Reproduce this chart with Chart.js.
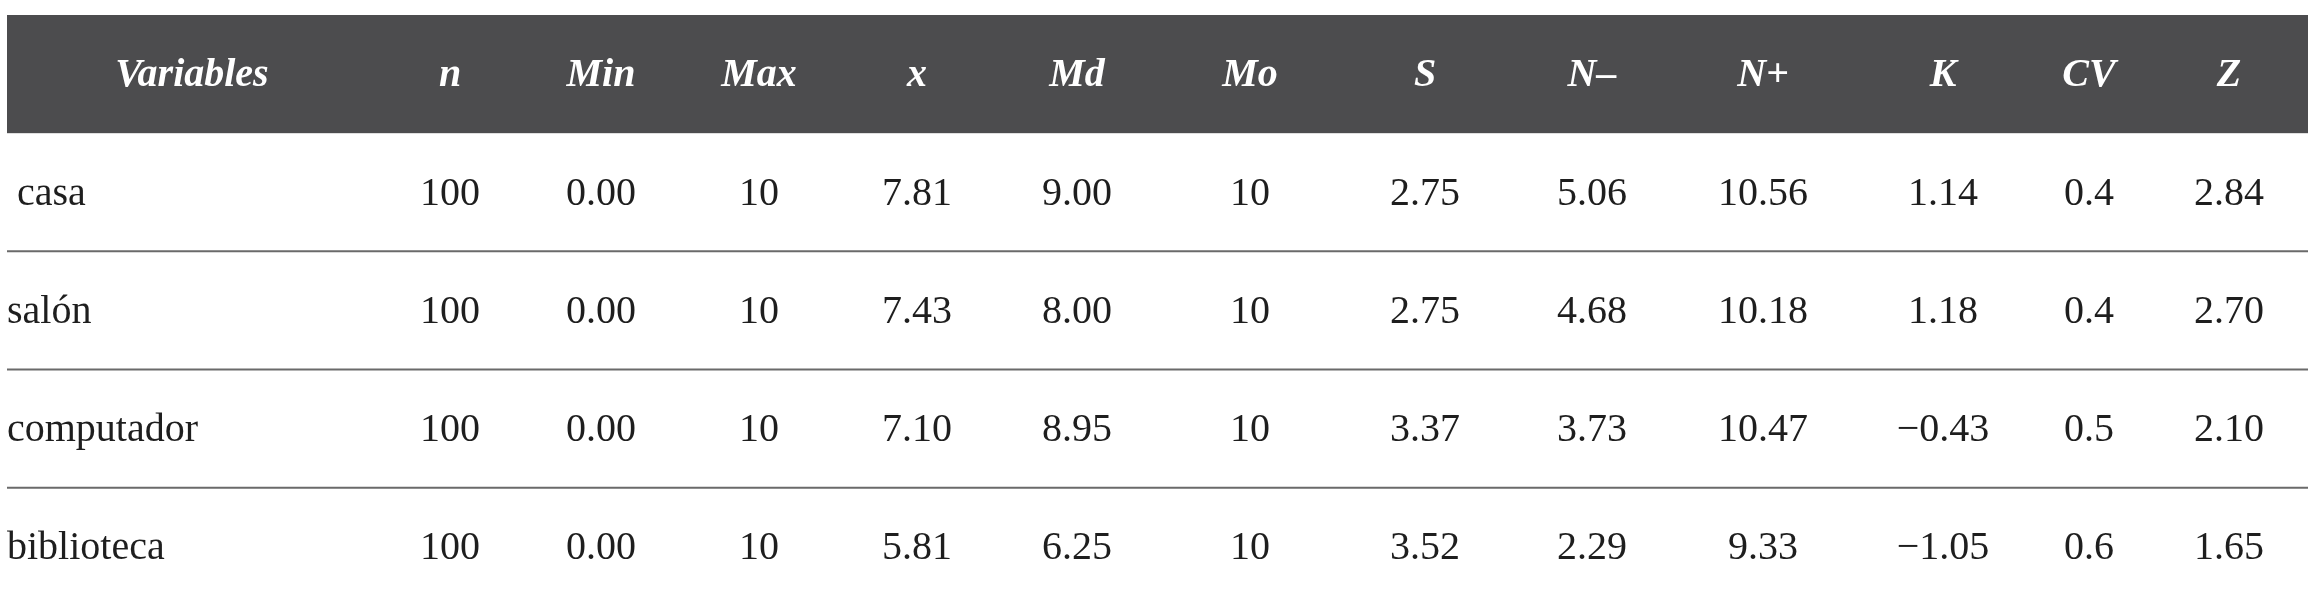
<!DOCTYPE html>
<html><head><meta charset="utf-8">
<script src="https://cdn.jsdelivr.net/npm/chart.js@4"></script>
<style>html,body{margin:0;padding:0;background:#fff}#w{width:2311px;height:600px}</style>
</head><body><div id="w"><canvas id="c"></canvas></div>
<script>
const headers = ["Variables","n","Min","Max","x","Md","Mo","S","N\u2013","N+","K","CV","Z"];
const variables = [" casa","salón","computador","biblioteca"];
const n = ["100","100","100","100"];
const minV = ["0.00","0.00","0.00","0.00"];
const maxV = ["10","10","10","10"];
const mean = ["7.81","7.43","7.10","5.81"];
const md = ["9.00","8.00","8.95","6.25"];
const mo = ["10","10","10","10"];
const s = ["2.75","2.75","3.37","3.52"];
const nMinus = ["5.06","4.68","3.73","2.29"];
const nPlus = ["10.56","10.18","10.47","9.33"];
const k = ["1.14","1.18","\u22120.43","\u22121.05"];
const cv = ["0.4","0.4","0.5","0.6"];
const z = ["2.84","2.70","2.10","1.65"];
const columns = [variables,n,minV,maxV,mean,md,mo,s,nMinus,nPlus,k,cv,z];

// layout (pixel-like x positions of column centres on a linear 0..2311 scale)
const colX = [192,450,601,759,917,1077,1250,1425,1592,1763,1943,2089,2229];

const tablePlugin = {
  id:'table',
  beforeDatasetsDraw(chart){
    const c = chart.ctx, xs = chart.scales.x, ys = chart.scales.y;
    const L = xs.getPixelForValue(7), R = xs.getPixelForValue(2308);
    const half = (ys.getPixelForValue(1)-ys.getPixelForValue(0))/2;
    // header
    c.save();
    c.fillStyle = '#4c4c4e';
    c.fillRect(L, ys.getPixelForValue(0)-half, R-L, 2*half);
    c.textBaseline='middle';
    c.font = 'italic bold 40px "Liberation Serif"';
    c.fillStyle='#fff'; c.textAlign='center';
    headers.forEach((h,i)=>c.fillText(h, xs.getPixelForValue(colX[i]), ys.getPixelForValue(0)+2));
    // separators
    c.strokeStyle='#6a6a6a'; c.lineWidth=2;
    for(let r=1;r<variables.length;r++){
      const y = ys.getPixelForValue(r)+half;
      c.beginPath(); c.moveTo(L,y); c.lineTo(R,y); c.stroke();
    }
    c.font = '40px "Liberation Serif"'; c.fillStyle='#1e1e1e';
    columns.forEach((col,i)=>{
      col.forEach((v,r)=>{
        const y = ys.getPixelForValue(r+1)+2;
        if(i===0){ c.textAlign='left'; c.fillText(v, L, y); }
        else { c.textAlign='center'; c.fillText(v, xs.getPixelForValue(colX[i]), y); }
      });
    });
    c.restore();
  }
};

new Chart(document.getElementById('c'),{
  type:'scatter',
  data:{datasets:[{data:[],pointRadius:0}]},
  options:{
    responsive:true, maintainAspectRatio:false, animation:false,
    layout:{padding:{top:15,bottom:0,left:0,right:0}},
    plugins:{legend:{display:false},tooltip:{enabled:false}},
    scales:{
      x:{type:'linear',min:0,max:2311,display:false},
      y:{type:'linear',min:-0.5,max:4.45,reverse:true,display:false}
    }
  },
  plugins:[tablePlugin]
});
</script></body></html>
